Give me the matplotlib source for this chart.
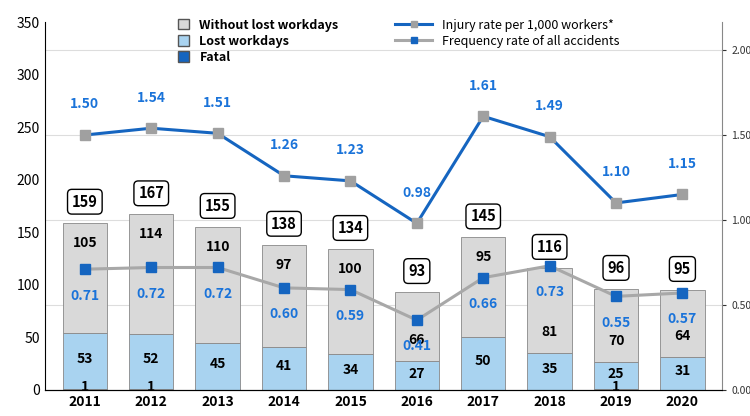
import matplotlib.pyplot as plt
import numpy as np
from matplotlib.patches import Patch

years = ["2011", "2012", "2013", "2014", "2015", "2016", "2017", "2018", "2019", "2020"]
fatal = [1, 1, 0, 0, 0, 0, 0, 0, 1, 0]
lost = [53, 52, 45, 41, 34, 27, 50, 35, 25, 31]
without = [105, 114, 110, 97, 100, 66, 95, 81, 70, 64]
totals = [159, 167, 155, 138, 134, 93, 145, 116, 96, 95]
injury_rate = [1.50, 1.54, 1.51, 1.26, 1.23, 0.98, 1.61, 1.49, 1.10, 1.15]
freq_rate = [0.71, 0.72, 0.72, 0.60, 0.59, 0.41, 0.66, 0.73, 0.55, 0.57]

plt.rcParams["font.family"] = "Noto Sans CJK JP"
fig = plt.figure(figsize=(7.5, 4.16), dpi=100)
ax = fig.add_axes([0.06, 0.063, 0.903, 0.884])
x = np.arange(len(years))
w = 0.67
rmax = 2.165
scale = 350 / rmax

grey = "#d9d9d9"
light = "#a9d3f0"
dark = "#1565c0"
for v in [0.5, 1.0, 1.5, 2.0]:
    ax.axhline(v * scale, color="#dddddd", lw=0.8, zorder=0)
ax.bar(x, fatal, w, color=dark, edgecolor="#888888", lw=0.6, zorder=2)
ax.bar(x, lost, w, bottom=fatal, color=light, edgecolor="#888888", lw=0.6, zorder=2)
b2 = np.array(fatal) + np.array(lost)
ax.bar(x, without, w, bottom=b2, color=grey, edgecolor="#888888", lw=0.6, zorder=2)

bold = dict(fontweight="bold", ha="center", va="center")
for i in range(len(years)):
    if fatal[i]:
        ax.text(x[i], 3, str(fatal[i]), fontsize=10, zorder=5, **bold)
    ax.text(x[i], fatal[i] + lost[i] * 0.5 + 2, str(lost[i]), fontsize=10, zorder=5, **bold)
    if totals[i] - freq_rate[i] * scale < 30:
        ypos = b2[i] + 20
    else:
        ypos = totals[i] - 19
    ax.text(x[i], ypos, str(without[i]), fontsize=10, zorder=5, **bold)
    ax.text(x[i], totals[i] + 20, str(totals[i]), fontsize=10.5, zorder=5,
            bbox=dict(boxstyle="round,pad=0.3,rounding_size=0.3", fc="white", ec="black", lw=1),
            **bold)

ax.set_ylim(0, 350)
ax.set_xlim(-0.6, 9.6)
ax.set_yticks(range(0, 351, 50))
ax.set_xticks(x)
ax.set_xticklabels(years, fontweight="bold")
ax.tick_params(labelsize=10, length=0)
for s in ["top", "right"]:
    ax.spines[s].set_visible(False)

ax2 = ax.twinx()
ax2.set_ylim(0, rmax)
ax2.set_yticks([0, 0.5, 1.0, 1.5, 2.0])
ax2.set_yticklabels(["0.00", "0.50", "1.00", "1.50", "2.00"])
ax2.tick_params(labelsize=7.5, length=3, colors="#333333")
for s in ["top", "left"]:
    ax2.spines[s].set_visible(False)
ax2.spines["right"].set_color("#888888")

ax2.plot(x, injury_rate, color="#1565c0", lw=2.2, marker="s", ms=7,
         mfc="#a0a0a0", mec="#a0a0a0", label="Injury rate per 1,000 workers*")
ax2.plot(x, freq_rate, color="#a8a8a8", lw=2.2, marker="s", ms=7,
         mfc="#1565c0", mec="#1565c0", label="Frequency rate of all accidents")
for i in range(len(years)):
    ax2.text(x[i], injury_rate[i] + 0.18, f"{injury_rate[i]:.2f}", color="#1a73d9",
             fontsize=10, **bold)
    ax2.text(x[i], freq_rate[i] - 0.155, f"{freq_rate[i]:.2f}", color="#1a73d9",
             fontsize=10, **bold)

handles = [Patch(fc=grey, ec="#555555"), Patch(fc=light, ec="#555555"), Patch(fc=dark, ec="#555555")]
ax.legend(handles, ["Without lost workdays", "Lost workdays", "Fatal"], loc="upper left",
          bbox_to_anchor=(0.18, 1.04), frameon=False, handlelength=0.9,
          handleheight=0.9, labelspacing=0.25, prop={"weight": "bold", "size": 9})
ax2.legend(loc="upper left", bbox_to_anchor=(0.5, 1.04), frameon=False, fontsize=9,
           handlelength=3, labelspacing=0.25, markerscale=0.6)

fig.savefig("out.png", dpi=100)
